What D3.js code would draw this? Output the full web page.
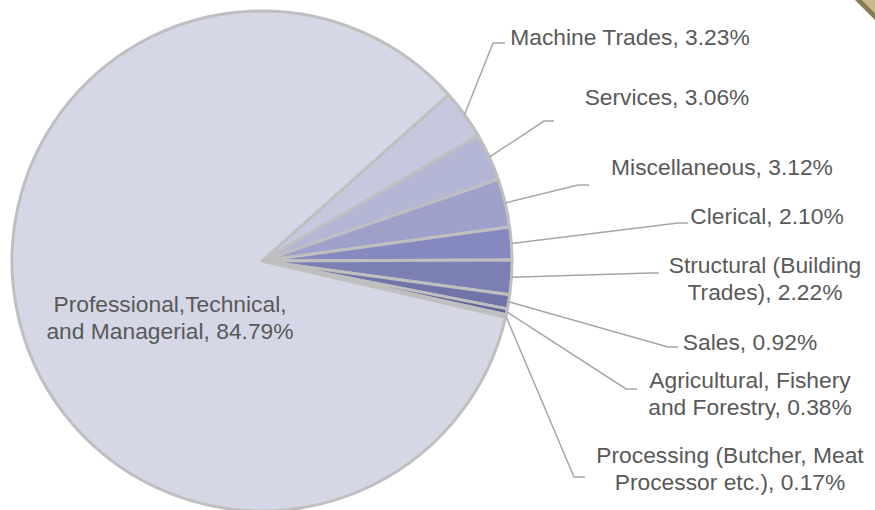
<!DOCTYPE html>
<html>
<head>
<meta charset="utf-8">
<script src="https://cdn.jsdelivr.net/npm/d3@7"></script>
<style>
  body { margin: 0; background: #fff; }
  svg { display: block; }
  text { font-family: "Liberation Sans", Arial, sans-serif; font-size: 22.8px; fill: #595959; }
</style>
</head>
<body>
<svg id="chart" width="875" height="510"></svg>
<script>
// Données
const categories = ["Machine Trades", "Services", "Miscellaneous", "Clerical",
    "Structural (Building Trades)", "Sales", "Agricultural, Fishery and Forestry",
    "Processing (Butcher, Meat Processor etc.)", "Professional,Technical, and Managerial"]
const shares = [3.23, 3.06, 3.12, 2.10, 2.22, 0.92, 0.38, 0.17, 84.79]
// texte des étiquettes (retours à la ligne comme sur l'original)
const labelLines = [
    ["Machine Trades, 3.23%"],
    ["Services, 3.06%"],
    ["Miscellaneous, 3.12%"],
    ["Clerical, 2.10%"],
    ["Structural (Building", "Trades), 2.22%"],
    ["Sales, 0.92%"],
    ["Agricultural, Fishery", "and Forestry, 0.38%"],
    ["Processing (Butcher, Meat", "Processor etc.), 0.17%"],
    ["Professional,Technical,", "and Managerial, 84.79%"]
]
const colors = ["#c6c8de", "#b3b6d5", "#9ea2ca", "#8589bf", "#7b7fb3",
    "#7074a8", "#63679c", "#575b90", "#d5d7e7"]

// Mise en page des étiquettes (centre du texte, coude et fin du trait)
const labelLayout = [
    { x: 630, y: 37, elbow: [493, 43], end: [505, 43] },
    { x: 667, y: 97, elbow: [544, 121], end: [554, 121] },
    { x: 722, y: 167, elbow: [578, 185], end: [589, 185] },
    { x: 767, y: 216, elbow: [678, 223], end: [688, 223] },
    { x: 765, y: 265, elbow: [650, 273], end: [659, 273] },
    { x: 750, y: 342, elbow: [668, 347], end: [678, 347] },
    { x: 750, y: 380, elbow: [626, 389], end: [637, 389] },
    { x: 730, y: 455, elbow: [574, 477], end: [585, 477] },
    { x: 170, y: 304, elbow: null, end: null }
]

const svg = d3.select("#chart")
const cx = 262, cy = 261, radius = 250
const lineHeight = 27

// coin décoratif en haut à droite
svg.append("polygon")
    .attr("points", "862,0 875,0 875,13")
    .attr("fill", "#c8b98f")
svg.append("polygon")
    .attr("points", "855,0 862,0 875,13 875,20")
    .attr("fill", "#8a7b58")

const startAngle = 48.3 * Math.PI / 180
const pie = d3.pie()
    .sort(null)
    .value(d => d)
    .startAngle(startAngle)
    .endAngle(startAngle + 2 * Math.PI)

const arcs = pie(shares)
const arc = d3.arc().innerRadius(0).outerRadius(radius)

const g = svg.append("g")
    .attr("transform", `translate(${cx}, ${cy})`)

g.selectAll("path")
    .data(arcs)
    .enter()
    .append("path")
    .attr("d", arc)
    .attr("fill", (d, i) => colors[i])
    .attr("stroke", "#bfbfbf")
    .attr("stroke-width", 3)
    .attr("stroke-linejoin", "round")

// Traits de rappel
arcs.forEach((d, i) => {
    const lay = labelLayout[i]
    if (!lay.elbow) return
    const mid = (d.startAngle + d.endAngle) / 2
    const sx = cx + radius * Math.sin(mid)
    const sy = cy - radius * Math.cos(mid)
    svg.append("polyline")
        .attr("points", `${sx},${sy} ${lay.elbow[0]},${lay.elbow[1]} ${lay.end[0]},${lay.end[1]}`)
        .attr("fill", "none")
        .attr("stroke", "#a6a6a6")
        .attr("stroke-width", 1.5)
})

// Étiquettes
labelLines.forEach((lines, i) => {
    const lay = labelLayout[i]
    const t = svg.append("text")
        .attr("text-anchor", "middle")
    lines.forEach((line, j) => {
        t.append("tspan")
            .attr("x", lay.x)
            .attr("y", lay.y + j * lineHeight)
            .attr("dy", "0.35em")
            .text(line)
    })
})
</script>
</body>
</html>
